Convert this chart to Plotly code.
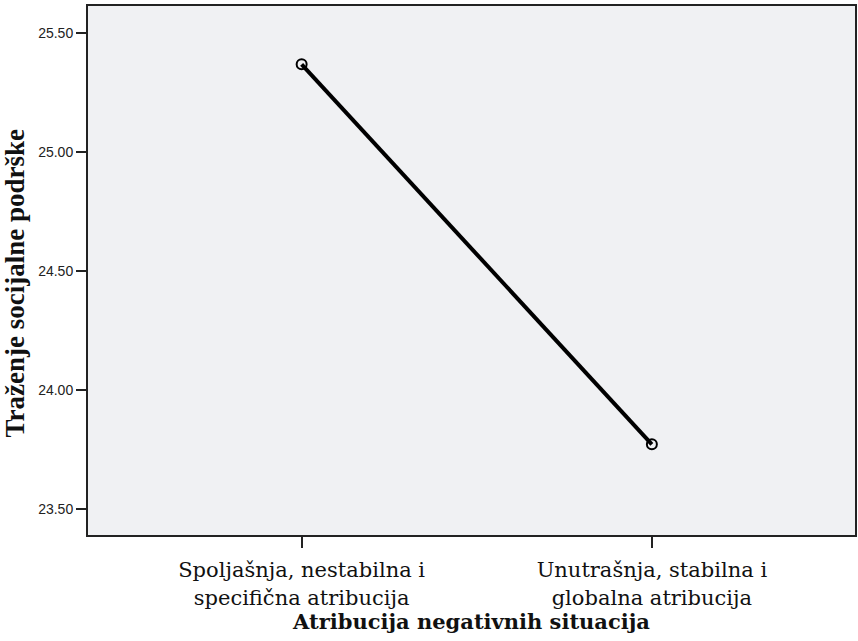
import plotly.graph_objects as go

categories = ["Spoljašnja, nestabilna i<br>specifična atribucija",
              "Unutrašnja, stabilna i<br>globalna atribucija"]
x_pos = [0, 1]
means = [25.37, 23.773]
y_ticks = [23.5, 24.0, 24.5, 25.0, 25.5]
y_tick_labels = ["23.50", "24.00", "24.50", "25.00", "25.50"]

fig = go.Figure()
fig.add_trace(go.Scatter(
    x=x_pos, y=means, mode="lines+markers",
    line=dict(color="black", width=4),
    marker=dict(symbol="circle-open", size=10, color="black", line=dict(width=2)),
    showlegend=False,
))

fig.update_layout(
    width=858, height=641,
    margin=dict(l=88, r=1, t=6, b=106),
    paper_bgcolor="white",
    plot_bgcolor="#F0F1F3",
    font=dict(family="DejaVu Serif", size=21, color="#111"),
    xaxis=dict(
        range=[-0.61, 1.58],
        tickmode="array", tickvals=x_pos, ticktext=categories,
        ticks="outside", ticklen=11, tickwidth=2, tickcolor="#222",
        ticklabelstandoff=4,
        showgrid=False, zeroline=False,
        showline=True, linecolor="#222", linewidth=2, mirror=True,
        tickfont=dict(family="DejaVu Serif", size=21, color="#111"),
        title=dict(text="<b>Atribucija negativnih situacija</b>",
                   font=dict(family="DejaVu Serif", size=21, color="#111"),
                   standoff=2),
    ),
    yaxis=dict(
        range=[23.392, 25.615],
        tickmode="array", tickvals=y_ticks, ticktext=y_tick_labels,
        ticks="outside", ticklen=10, tickwidth=2, tickcolor="#222",
        showgrid=False, zeroline=False,
        showline=True, linecolor="#222", linewidth=2, mirror=True,
        tickfont=dict(family="Liberation Sans", size=14, color="#222"),
        title=dict(text="<b>Traženje socijalne podrške</b>"
                        "<span style=\"color:rgba(0,0,0,0)\"><b>--i</b></span>",
                   font=dict(family="Liberation Serif", size=27, color="#111"),
                   standoff=8),
    ),
)

fig.write_html("out.html", config={"displayModeBar": False},
               post_script="document.body.style.margin='0';document.body.style.overflow='hidden';")
